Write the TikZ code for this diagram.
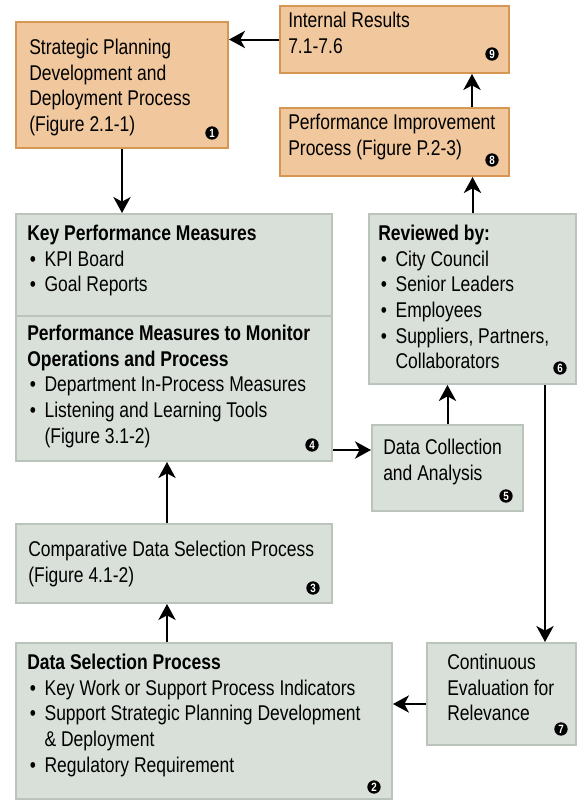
\documentclass[tikz,border=0pt]{standalone}
\usepackage{fontspec}
\setmainfont{Liberation Sans}[FakeStretch=0.82]
\usetikzlibrary{arrows.meta}
\definecolor{orfill}{RGB}{241,200,158}
\definecolor{ordraw}{RGB}{214,150,84}
\definecolor{grfill}{RGB}{217,224,217}
\definecolor{grdraw}{RGB}{186,196,186}
\newcommand{\itm}{\makebox[13pt][l]{\hspace{2pt}\textbullet}}
\newcommand{\cnt}{\hspace{13pt}}

\begin{document}
\begin{tikzpicture}[x=0.75pt,y=0.75pt,yscale=-1,xscale=1,
  orbox/.style={draw=ordraw,fill=orfill,line width=1.5pt,anchor=north west,inner sep=0pt},
  grbox/.style={draw=grdraw,fill=grfill,line width=1.5pt,anchor=north west,inner sep=0pt},
  txt/.style={anchor=north west,inner sep=0pt,align=left,font=\fontsize{16pt}{19.2pt}\selectfont},
  badge/.style={circle,fill=black,text=white,inner sep=0pt,minimum size=10pt,font=\fontsize{9pt}{9pt}\selectfont\bfseries},
  arr/.style={-{Stealth[length=12pt,width=13pt,inset=3.5pt]},line width=1.5pt}]
\path[use as bounding box,fill=white] (0,0) rectangle (578,800);

%Shape: Rectangle (orange boxes)
\node[orbox,minimum width=159pt,minimum height=94.5pt] (b1) at (15,21) {};
\node[orbox,minimum width=171.75pt,minimum height=50.25pt] (b9) at (279,5) {};
\node[orbox,minimum width=171.75pt,minimum height=51pt] (b8) at (279,107) {};
%Shape: Rectangle (green boxes)
\node[grbox,minimum width=237pt,minimum height=76.5pt] (kpm) at (15,213) {};
\node[grbox,minimum width=237pt,minimum height=108.75pt] (mon) at (15,315) {};
\node[grbox,minimum width=155.25pt,minimum height=127.5pt] (b6) at (368,213) {};
\node[grbox,minimum width=113.25pt,minimum height=64.5pt] (b5) at (371,424) {};
\node[grbox,minimum width=237pt,minimum height=59.25pt] (b3) at (15,523) {};
\node[grbox,minimum width=111.75pt,minimum height=76.5pt] (b7) at (426,642) {};
\node[grbox,minimum width=282pt,minimum height=117pt] (b2) at (15,642) {};

% Text Node
\node[txt] (t1) at (29,39) {Strategic Planning\\Development and\\Deployment Process\\(Figure 2.1-1)};
% Text Node
\node[txt] (t9) at (288,12) {Internal Results\\7.1-7.6};
% Text Node
\node[txt] (t8) at (288,114) {Performance Improvement\\Process (Figure P.2-3)};
% Text Node
\node[txt] (tkpm) at (27,225) {\textbf{Key Performance Measures}\\\itm KPI Board\\\itm Goal Reports};
% Text Node
\node[txt] (tmon) at (27,325) {\textbf{Performance Measures to Monitor}\\\textbf{Operations and Process}\\\itm Department In-Process Measures\\\itm Listening and Learning Tools\\\cnt(Figure 3.1-2)};
% Text Node
\node[txt] (t6) at (378,225) {\textbf{Reviewed by:}\\\itm City Council\\\itm Senior Leaders\\\itm Employees\\\itm Suppliers, Partners,\\\cnt Collaborators};
% Text Node
\node[txt] (t5) at (383,439) {Data Collection\\and Analysis};
% Text Node
\node[txt] (t3) at (28,541) {Comparative Data Selection Process\\(Figure 4.1-2)};
% Text Node
\node[txt] (t2) at (27,654) {\textbf{Data Selection Process}\\\itm Key Work or Support Process Indicators\\\itm Support Strategic Planning Development\\\cnt\& Deployment\\\itm Regulatory Requirement};
% Text Node
\node[txt] (t7) at (447,654) {Continuous\\Evaluation for\\Relevance};

% Number badges
\node[badge] (n1) at (212,133) {1};
\node[badge] (n2) at (374,787) {2};
\node[badge] (n3) at (313,588) {3};
\node[badge] (n4) at (312,445) {4};
\node[badge] (n5) at (506,496) {5};
\node[badge] (n6) at (560,368) {6};
\node[badge] (n7) at (561,729) {7};
\node[badge] (n8) at (492,160) {8};
\node[badge] (n9) at (492,54) {9};

%Straight Lines
\draw[arr] (b9.west) -- (b9.west -| b1.east);
\draw[arr] (b1.south) -- (b1.south |- kpm.north);
\draw[arr] (b8.north -| 472,0) -- (b9.south -| 472,0);
\draw[arr] (b6.north) -- (b6.north |- b8.south);
\draw[arr] (mon.east |- 0,450) -- (b5.west |- 0,450);
\draw[arr] (b5.north) -- (b5.north |- b6.south);
\draw[arr] (b6.south -| 545,0) -- (b7.north -| 545,0);
\draw[arr] (b7.west |- 0,704) -- (b2.east |- 0,704);
\draw[arr] (b3.north -| 167,0) -- (mon.south -| 167,0);
\draw[arr] (b2.north -| 167,0) -- (b3.south -| 167,0);

\end{tikzpicture}
\end{document}
